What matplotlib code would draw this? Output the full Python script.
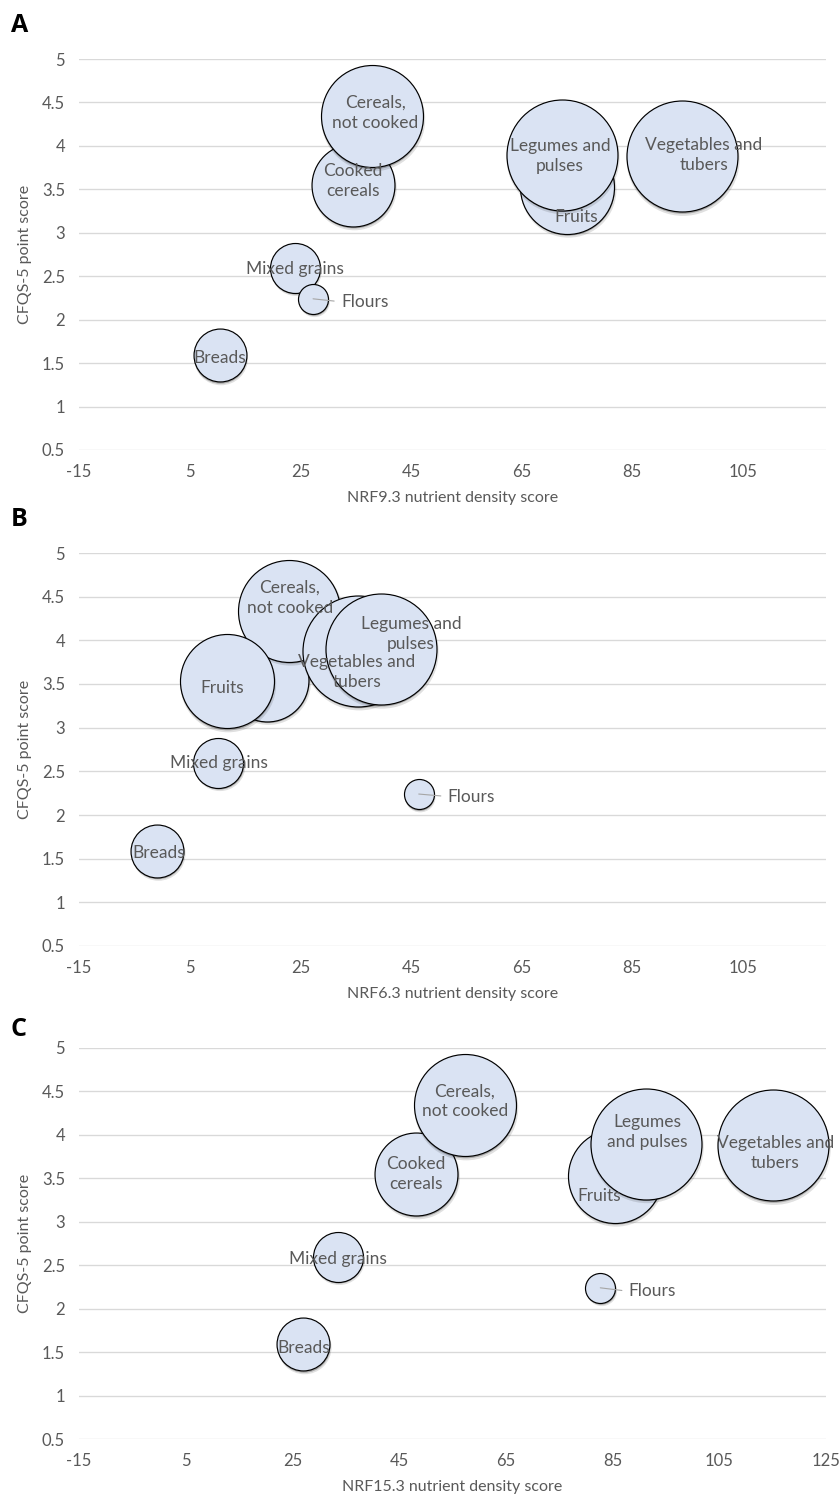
import matplotlib
matplotlib.use("Agg")
import matplotlib.pyplot as plt
from matplotlib.transforms import offset_copy
from matplotlib.ticker import FuncFormatter

plt.rcParams['font.family'] = ['Lato', 'DejaVu Sans']

# ---------------- data ----------------
categories = ["Breads", "Cooked cereals", "Cereals, not cooked", "Fruits",
              "Vegetables and tubers", "Legumes and pulses", "Mixed grains", "Flours"]
cfqs5 = [1.59, 3.55, 4.34, 3.53, 3.88, 3.90, 2.60, 2.24]
nrf93 = [10.4, 34.5, 37.9, 73.2, 93.9, 72.2, 24.0, 27.3]
nrf63 = [-0.9, 19.0, 23.0, 11.7, 35.4, 39.5, 10.2, 46.4]
nrf153 = [27.0, 48.2, 57.3, 85.4, 115.0, 91.2, 33.5, 82.7]
bubble_size = [7.0, 17.2, 26.0, 22.1, 30.8, 30.8, 6.25, 2.25]

y_ticks = [0.5, 1, 1.5, 2, 2.5, 3, 3.5, 4, 4.5, 5]
x_ticks_ab = [-15, 5, 25, 45, 65, 85, 105]
x_ticks_c = [-15, 5, 25, 45, 65, 85, 105, 125]

labels_A = ["Breads", "Cooked\ncereals", "Cereals,\nnot cooked", "Fruits",
            "Vegetables and\ntubers", "Legumes and\npulses", "Mixed grains", "Flours"]
labels_B = ["Breads", "", "Cereals,\nnot cooked", "Fruits",
            "Vegetables and\ntubers", "Legumes and\npulses", "Mixed grains", "Flours"]
labels_C = ["Breads", "Cooked\ncereals", "Cereals,\nnot cooked", "Fruits",
            "Vegetables and\ntubers", "Legumes\nand pulses", "Mixed grains", "Flours"]

# label offsets in pixels (dx right, dy down) -- styling only
offs_A = [(0.5, 2.5), (0, -4), (3.5, -3.5), (9, 30), (22.5, -1), (-1.5, 1), (0, 1), (28, 3)]
offs_B = [(2, 2), (0, 0), (0.5, -13), (-4.5, 6.5), (-1, 21.5), (30.5, -15), (0, 0), (29, 2.5)]
offs_C = [(1, 4), (0, 0), (0, -4), (-15.5, 20), (2.5, 8), (1.5, -12), (0, 2), (28.5, 3.5)]

W, H = 840, 1498
fig = plt.figure(figsize=(W / 100, H / 100), dpi=100)

panels = [
    dict(letter="A", x=nrf93, xlabel="NRF9.3 nutrient density score", top=59, bottom=450,
         xmax=120, xticks=x_ticks_ab, labels=labels_A, offs=offs_A, letter_y=25),
    dict(letter="B", x=nrf63, xlabel="NRF6.3 nutrient density score", top=553, bottom=946,
         xmax=120, xticks=x_ticks_ab, labels=labels_B, offs=offs_B, letter_y=520),
    dict(letter="C", x=nrf153, xlabel="NRF15.3 nutrient density score", top=1048, bottom=1439,
         xmax=125, xticks=x_ticks_c, labels=labels_C, offs=offs_C, letter_y=1029),
]

grey = "#595959"
fill = "#DAE3F3"
PX = 0.72  # points per pixel at 100 dpi
left_px, right_px = 79, 826

for p in panels:
    ax = fig.add_axes([left_px / W, 1 - p["bottom"] / H, (right_px - left_px) / W,
                       (p["bottom"] - p["top"]) / H])
    ax.set_xlim(-15, p["xmax"])
    ax.set_ylim(0.5, 5)
    ax.set_xticks(p["xticks"])
    ax.set_yticks(y_ticks)
    ax.yaxis.set_major_formatter(FuncFormatter(lambda v, _: "%g" % v))
    ax.xaxis.set_major_formatter(FuncFormatter(lambda v, _: "%g" % v))
    for s in ax.spines.values():
        s.set_visible(False)
    ax.tick_params(length=0, labelsize=12, labelcolor=grey, pad=10)
    ax.yaxis.grid(True, color="#D9D9D9", lw=0.95)
    ax.set_axisbelow(True)

    shadow_tr = offset_copy(ax.transData, fig=fig, x=1.5, y=-3, units="dots")
    shadow_tr2 = offset_copy(ax.transData, fig=fig, x=1.0, y=-2, units="dots")
    xs = p["x"]
    for k in range(len(categories)):
        s = 207.36 * bubble_size[k]
        ax.scatter([xs[k]], [cfqs5[k]], s=s * 1.04, color="black", alpha=0.12,
                   edgecolors="none", transform=shadow_tr, zorder=2 + 3 * k, clip_on=False)
        ax.scatter([xs[k]], [cfqs5[k]], s=s, color="black", alpha=0.25,
                   edgecolors="none", transform=shadow_tr2, zorder=3 + 3 * k, clip_on=False)
        ax.scatter([xs[k]], [cfqs5[k]], s=s, color=fill, edgecolors="black",
                   linewidths=0.85, zorder=4 + 3 * k, clip_on=False)

    for k, lab in enumerate(p["labels"]):
        if not lab:
            continue
        dx, dy = p["offs"][k]
        if categories[k] == "Flours":
            ax.annotate(lab, (xs[k], cfqs5[k]), xytext=(dx * PX, -dy * PX),
                        textcoords="offset points", ha="left", va="center",
                        fontsize=12.5, color=grey, zorder=200,
                        arrowprops=dict(arrowstyle="-", color="#A6A6A6", lw=0.8,
                                        shrinkA=3, shrinkB=0, relpos=(0, 0.5)))
        else:
            ax.annotate(lab, (xs[k], cfqs5[k]), xytext=(dx * PX, -dy * PX),
                        textcoords="offset points", ha="center", va="center",
                        fontsize=12.5, color=grey, zorder=200, linespacing=1.3)

    ax.set_xlabel(p["xlabel"], fontsize=11.5, color=grey)
    ax.xaxis.set_label_coords(0.5, -48 / (p["bottom"] - p["top"]))
    ax.xaxis.label.set_va("center")
    ax.set_ylabel("CFQS-5 point score", fontsize=11.5, color=grey)
    ax.yaxis.set_label_coords(-54 / (right_px - left_px), 0.5)
    ax.yaxis.label.set_va("center")

    fig.text(11 / W, 1 - p["letter_y"] / H, p["letter"], fontsize=18, fontweight="bold",
             ha="left", va="center", color="black", family=["Open Sans", "DejaVu Sans"])

fig.savefig("out.png", dpi=100)
